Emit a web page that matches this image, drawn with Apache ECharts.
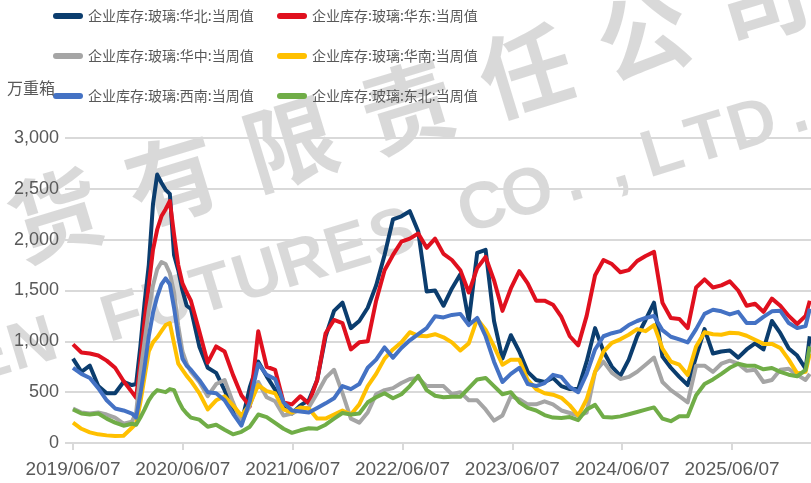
<!DOCTYPE html>
<html><head><meta charset="utf-8">
<script src="https://cdn.jsdelivr.net/npm/echarts/dist/echarts.min.js"></script>
<style>html,body{margin:0;padding:0;background:#fff}#c{width:811px;height:483px}</style>
</head><body><div id="c"></div>
<script>
// ---- data ----
const xTickLabels = ['2019/06/07','2020/06/07','2021/06/07','2022/06/07','2023/06/07','2024/06/07','2025/06/07'];
// weeks after 2019/06/07 of each sampled observation
const weeks = [0,4,8,12,16,20,24,
 28,30,32,34,36,38,40,42,44,46,48,50,52,54,56,
 60,64,68,72,76,80,84,88,92,96,100,104,108,112,116,120,124,128,132,136,
 140,144,148,152,156,160,164,168,172,176,180,184,188,192,196,200,204,
 208,212,216,220,224,228,232,236,240,244,248,252,256,260,264,268,272,276,280,284,288,292,296,300,304,308,312,316,320,324,328,332,336,340,344,348,
 350];
const north = [830,700,760,560,490,490,600,
 570,580,950,1380,1750,2350,2640,2560,2490,2450,1850,1700,1500,1350,1320,
 950,740,690,520,330,190,550,800,656,525,344,290,370,420,620,1050,1300,1380,1130,1200,
 1330,1550,1850,2200,2230,2280,2080,1490,1500,1350,1520,1660,1200,1870,1900,1200,830,
 1060,900,700,620,600,640,560,530,530,800,1130,900,750,660,820,1050,1210,1380,850,740,650,570,850,1120,880,900,910,840,920,980,920,1200,1080,930,860,730,
 1050];
const east = [970,890,880,860,810,740,610,
 500,445,800,1200,1550,1900,2100,2230,2300,2380,2050,1750,1570,1480,1400,
 1100,790,950,900,670,470,360,1100,750,720,400,380,460,390,620,1080,1210,1180,920,990,
 1000,1400,1700,1850,1980,2010,2060,1920,2010,1860,1800,1700,1480,1720,1830,1600,1300,
 1520,1690,1570,1400,1400,1360,1240,1050,960,1250,1650,1800,1760,1680,1700,1790,1840,1880,1380,1230,1220,1130,1530,1610,1530,1550,1590,1500,1350,1370,1290,1420,1350,1250,1170,1250,
 1400];
const central = [340,300,290,300,280,250,190,
 210,300,690,1000,1310,1550,1710,1780,1760,1670,1480,1150,900,780,700,
 600,460,580,620,400,200,370,600,450,410,270,290,330,350,490,640,720,490,240,200,
 300,480,520,540,590,630,640,560,560,560,480,500,420,420,330,220,270,
 460,430,380,380,410,380,320,295,270,300,700,800,690,630,650,700,770,840,600,520,460,400,760,760,700,780,810,780,710,720,600,620,720,730,670,620,
 680];
const south = [200,140,105,85,75,70,72,
 150,190,400,650,900,990,1040,1100,1160,1180,980,780,720,660,610,
 490,330,420,459,370,270,380,570,510,490,330,300,350,340,240,240,280,320,280,380,
 560,680,830,920,990,1090,1055,1050,1070,1040,990,910,980,1220,1115,950,770,
 820,820,620,530,490,475,445,370,270,430,700,900,985,1020,1065,1120,1100,1160,930,800,770,670,950,1090,1070,1065,1085,1080,1055,1016,975,975,935,820,685,700,
 880];
const southwest = [740,680,640,540,420,340,320,
 290,250,480,750,1050,1280,1440,1560,1620,1560,1330,1050,830,760,720,
 620,500,490,420,290,170,410,780,670,630,400,320,310,300,345,390,440,560,530,580,
 740,820,940,840,935,1010,1070,1130,1246,1235,1260,1270,1160,1230,1050,800,600,
 680,740,580,560,590,670,650,550,500,680,920,1050,1080,1100,1160,1200,1230,1250,1110,1045,1020,990,1120,1270,1310,1295,1265,1290,1180,1180,1240,1295,1300,1180,1130,1150,
 1320];
const northeast = [330,290,280,290,240,200,170,
 190,180,250,330,420,480,520,510,500,530,520,420,340,290,250,
 230,160,180,130,85,110,160,280,255,197,140,100,125,145,140,180,240,295,280,290,
 400,450,490,440,480,560,660,520,465,450,455,455,540,625,640,560,480,
 500,400,345,320,275,250,246,255,225,330,375,255,250,262,283,305,328,350,240,215,262,262,470,580,625,680,740,780,760,760,725,738,700,672,656,720,
 950];
const seriesNames = ['企业库存:玻璃:华北:当周值','企业库存:玻璃:华东:当周值','企业库存:玻璃:华中:当周值',
 '企业库存:玻璃:华南:当周值','企业库存:玻璃:西南:当周值','企业库存:玻璃:东北:当周值'];
const seriesValues = [north, east, central, south, southwest, northeast];
const seriesColors = ['#0B3D6E','#E0101E','#A5A5A5','#FFC000','#4472C4','#70AD47'];
const unitLabel = '万重箱';

// ---- chart ----
const DAYS_PER_YEAR = 365.25;
const X_MAX_DAYS = 2454;
const gridC = '#D9D9D9', textC = '#595959';
const numFont = 'Liberation Sans', cjkFont = 'Noto Sans CJK SC';
const iconPath = 'path://M3 0H27A3 3 0 0 1 27 6H3A3 3 0 0 1 3 0Z';

const legendPos = [[53,9],[277,9],[53,49],[277,49],[53,89],[277,89]];
const legends = seriesNames.map((n,i)=>({
  data:[n], left:legendPos[i][0], top:legendPos[i][1], icon:iconPath,
  itemWidth:30, itemHeight:6, itemGap:0, padding:0, selectedMode:false,
  textStyle:{color:textC, fontSize:14, fontFamily:cjkFont}
}));

const wm = [];
const wm1 = '货有限责任公司';
for (let i=0;i<wm1.length;i++) wm.push({type:'text', x:55+i*117.6, y:215-i*36, rotation:17*Math.PI/180, z:0, silent:true,
  style:{text:wm1[i], fill:'rgba(0,0,0,0.15)', font:'bold 92px "Noto Sans CJK SC"', align:'center', verticalAlign:'middle'}});
const wm2 = 'EN FUTURES CO.,LTD.';
for (let i=0;i<wm2.length;i++) wm.push({type:'text', x:-12+i*45, y:360-i*13.7, rotation:17*Math.PI/180, z:0, silent:true,
  style:{text:wm2[i], fill:'rgba(0,0,0,0.15)', font:'bold 66px "Liberation Sans"', align:'center', verticalAlign:'middle'}});

const chart = echarts.init(document.getElementById('c'), null, {renderer:'canvas'});
chart.setOption({
  animation:false,
  backgroundColor:'#fff',
  grid:{left:73, right:0, top:138, bottom:40, containLabel:false},
  legend:legends,
  graphic:[...wm, {type:'text', left:7, top:80, z:5, style:{text:unitLabel, fill:textC, font:'16px "Noto Sans CJK SC"'}}],
  xAxis:{type:'value', min:0, max:X_MAX_DAYS, interval:DAYS_PER_YEAR,
    axisLine:{show:true, lineStyle:{color:gridC, width:2}},
    axisTick:{show:true, length:7, lineStyle:{color:gridC, width:2}},
    splitLine:{show:false},
    axisLabel:{color:textC, fontSize:19, fontFamily:numFont, margin:17, showMaxLabel:false,
      formatter:v=>{const i=Math.round(v/DAYS_PER_YEAR); return (Math.abs(v-i*DAYS_PER_YEAR)<1 && xTickLabels[i])?xTickLabels[i]:'';}}},
  yAxis:{type:'value', min:0, max:3000, interval:500,
    axisLine:{show:false},
    axisTick:{show:true, length:8, lineStyle:{color:gridC, width:2}},
    splitLine:{show:true, lineStyle:{color:gridC, width:2}},
    axisLabel:{color:textC, fontSize:18, fontFamily:numFont, margin:14, formatter:v=>v.toLocaleString('en-US')}},
  series:seriesNames.map((n,i)=>({
    type:'line', name:n, symbol:'none', showSymbol:false, z:2+i,
    lineStyle:{width:4, color:seriesColors[i], join:'round'},
    itemStyle:{color:seriesColors[i]},
    data:weeks.map((w,j)=>[w*7, seriesValues[i][j]])
  }))
});
</script></body></html>
